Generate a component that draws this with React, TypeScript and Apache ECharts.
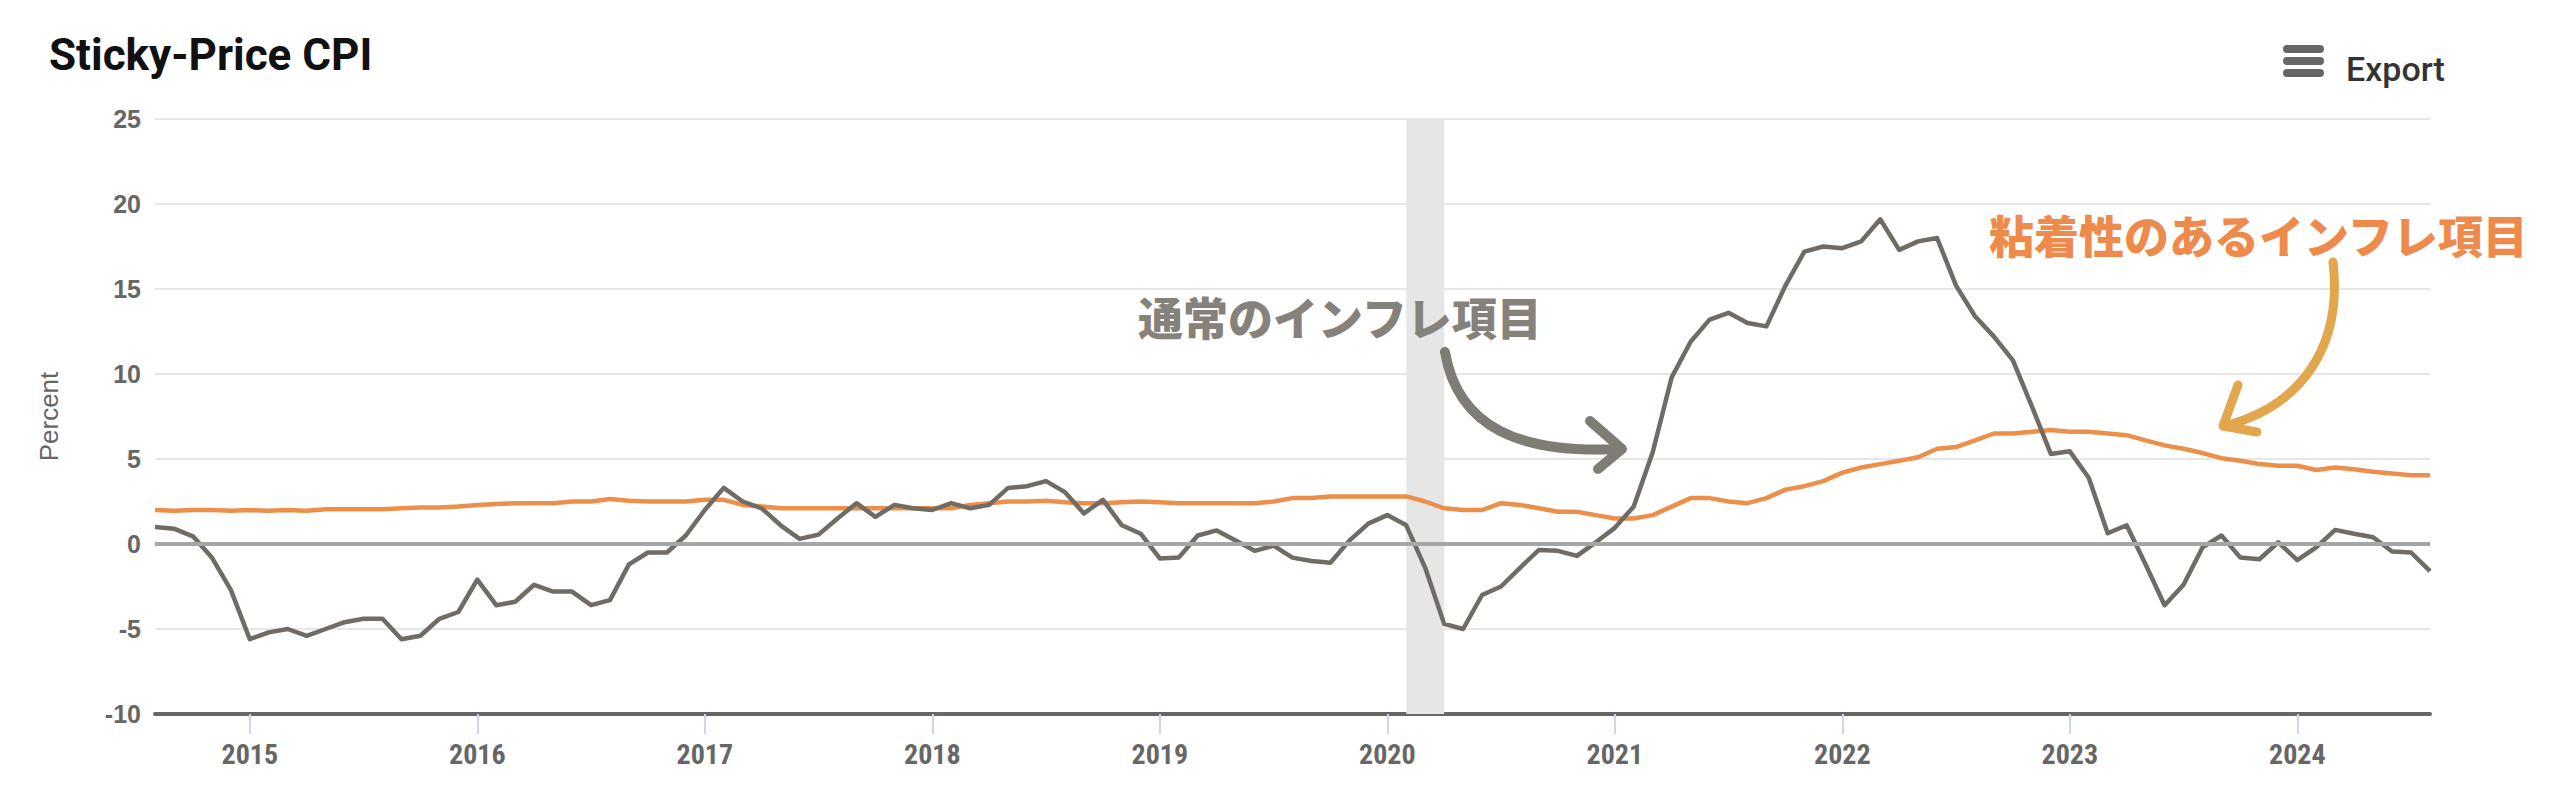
import React, { useEffect, useRef } from "react";
import * as echarts from "echarts";

// Monthly categories: Aug 2014 .. Aug 2024
const START_YEAR = 2014;
const START_MONTH = 8;
const N_MONTHS = 121;
const months: string[] = [];
for (let i = 0; i < N_MONTHS; i++) {
  const t = START_YEAR * 12 + (START_MONTH - 1) + i;
  const y = Math.floor(t / 12);
  const m = (t % 12) + 1;
  months.push(`${y}-${String(m).padStart(2, "0")}`);
}

// Grey line (通常のインフレ項目), percent
const flexibleCPI = [
  1.0, 0.9, 0.45, -0.8, -2.7,
  -5.6, -5.2, -5.0, -5.4, -5.0, -4.6, -4.4, -4.4, -5.6, -5.4, -4.4, -4.0,
  -2.1, -3.6, -3.4, -2.4, -2.8, -2.8, -3.6, -3.3, -1.2, -0.5, -0.5, 0.5,
  2.0, 3.3, 2.5, 2.1, 1.1, 0.3, 0.55, 1.5, 2.4, 1.6, 2.3, 2.1,
  2.0, 2.4, 2.1, 2.3, 3.3, 3.4, 3.7, 3.05, 1.8, 2.6, 1.1, 0.6,
  -0.85, -0.8, 0.5, 0.8, 0.2, -0.4, -0.1, -0.8, -1.0, -1.1, 0.2, 1.2,
  1.7, 1.1, -1.4, -4.7, -5.0, -3.0, -2.5, -1.4, -0.35, -0.4, -0.7, 0.1,
  0.95, 2.2, 5.4, 9.8, 11.9, 13.2, 13.6, 13.0, 12.8, 15.2, 17.2, 17.5,
  17.4, 17.8, 19.1, 17.3, 17.8, 18.0, 15.2, 13.4, 12.2, 10.8, 8.1, 5.3,
  5.45, 3.9, 0.63, 1.1, -1.2, -3.6, -2.4, -0.2, 0.5, -0.8, -0.9, 0.1,
  -0.95, -0.2, 0.83, 0.6, 0.4, -0.44, -0.5, -1.6,
];

// Orange line (粘着性のあるインフレ項目), percent
const stickyCPI = [
  2.0, 1.95, 2.0, 2.0, 1.95,
  2.0, 1.95, 2.0, 1.95, 2.05, 2.05, 2.05, 2.05, 2.1, 2.15, 2.15, 2.2,
  2.3, 2.35, 2.4, 2.4, 2.4, 2.5, 2.5, 2.65, 2.55, 2.5, 2.5, 2.5,
  2.6, 2.6, 2.3, 2.2, 2.1, 2.1, 2.1, 2.1, 2.1, 2.1, 2.1, 2.1,
  2.1, 2.1, 2.3, 2.4, 2.5, 2.5, 2.55, 2.45, 2.4, 2.4, 2.45, 2.5,
  2.45, 2.4, 2.4, 2.4, 2.4, 2.4, 2.5, 2.7, 2.7, 2.8, 2.8, 2.8,
  2.8, 2.8, 2.5, 2.1, 2.0, 2.0, 2.4, 2.3, 2.1, 1.9, 1.9, 1.7,
  1.5, 1.5, 1.7, 2.2, 2.7, 2.7, 2.5, 2.4, 2.7, 3.2, 3.4, 3.7,
  4.2, 4.5, 4.7, 4.9, 5.1, 5.6, 5.7, 6.1, 6.5, 6.5, 6.6, 6.7,
  6.6, 6.6, 6.5, 6.4, 6.1, 5.8, 5.6, 5.35, 5.05, 4.9, 4.7, 4.6,
  4.6, 4.35, 4.5, 4.4, 4.25, 4.15, 4.05, 4.05,
];

const Y_MIN = -10;
const Y_MAX = 25;
const Y_INTERVAL = 5;
const RECESSION = ["2020-02", "2020-04"];

const TITLE = "Sticky-Price CPI";
const LABEL_GREY = "通常のインフレ項目";
const LABEL_ORANGE = "粘着性のあるインフレ項目";

const GREY = "#706b64";
const ORANGE = "#ec8f4a";
const NARROW = '"Liberation Sans Narrow", "Roboto Condensed", Roboto, sans-serif';
const SANS = 'Roboto, "Noto Sans", sans-serif';
const ARIAL = '"Liberation Sans", Arial, sans-serif';
const CJK = '"Noto Sans CJK JP", sans-serif';

export default function App() {
  const ref = useRef<HTMLDivElement>(null);

  useEffect(() => {
    document.body.style.margin = "0";
    if (!ref.current) return;
    const chart = echarts.init(ref.current, undefined, { renderer: "svg" });

    const isJan = (_i: number, v: string) => v.endsWith("-01");

    chart.setOption({
      animation: false,
      backgroundColor: "#ffffff",
      title: {
        text: TITLE,
        left: 44,
        top: 28,
        textStyle: {
          fontSize: 44,
          fontWeight: "bold",
          color: "#111",
          fontFamily: SANS,
        },
      },
      grid: {
        left: 155,
        right: 130,
        top: 119,
        bottom: 84,
        containLabel: false,
        outerBoundsMode: "none",
      },
      xAxis: {
        type: "category",
        data: months,
        boundaryGap: false,
        axisLine: { onZero: false, lineStyle: { color: "#666666", width: 4 } },
        axisTick: {
          show: true,
          interval: isJan,
          length: 20,
          lineStyle: { color: "#ccd6eb", width: 2 },
        },
        axisLabel: {
          interval: isJan,
          formatter: (v: string) => v.slice(0, 4),
          color: "#666666",
          fontSize: 28,
          fontWeight: "bold",
          fontFamily: NARROW,
          margin: 26,
        },
        splitLine: { show: false },
      },
      yAxis: {
        type: "value",
        min: Y_MIN,
        max: Y_MAX,
        interval: Y_INTERVAL,
        name: "Percent",
        nameLocation: "middle",
        nameGap: 93,
        nameRotate: 90,
        nameTextStyle: {
          color: "#666666",
          fontSize: 26,
          fontFamily: ARIAL,
        },
        axisLine: { show: false },
        axisTick: { show: false },
        axisLabel: {
          color: "#666666",
          fontSize: 25,
          fontWeight: "bold",
          fontFamily: ARIAL,
          margin: 14,
        },
        splitLine: { lineStyle: { color: "#e6e6e6", width: 2 } },
      },
      series: [
        {
          name: "base",
          type: "line",
          data: [],
          silent: true,
          markArea: {
            silent: true,
            itemStyle: { color: "#e6e6e6", opacity: 1 },
            data: [[{ xAxis: RECESSION[0] }, { xAxis: RECESSION[1] }]],
          },
          markLine: {
            silent: true,
            symbol: "none",
            label: { show: false },
            lineStyle: { color: "#a6a6a6", width: 4, type: "solid" },
            data: [{ yAxis: 0 }],
          },
        },
        {
          name: "Sticky",
          type: "line",
          data: stickyCPI,
          symbol: "none",
          lineStyle: { color: ORANGE, width: 4.5, join: "round" },
          itemStyle: { color: ORANGE },
        },
        {
          name: "Flexible",
          type: "line",
          data: flexibleCPI,
          symbol: "none",
          lineStyle: { color: GREY, width: 4.5, join: "round" },
          itemStyle: { color: GREY },
        },
      ],
      graphic: [
        // Export button
        { type: "rect", shape: { x: 2283, y: 45, width: 41, height: 8, r: 4 }, style: { fill: "#666666" } },
        { type: "rect", shape: { x: 2283, y: 57, width: 41, height: 8, r: 4 }, style: { fill: "#666666" } },
        { type: "rect", shape: { x: 2283, y: 69, width: 41, height: 8, r: 4 }, style: { fill: "#666666" } },
        {
          type: "text",
          style: {
            text: "Export",
            x: 2346,
            y: 69,
            textVerticalAlign: "middle",
            font: `500 34px ${SANS}`,
            fill: "#333333",
          },
        },
        // Grey annotation
        {
          type: "text",
          z: 100,
          style: {
            text: LABEL_GREY,
            x: 1138,
            y: 316,
            textVerticalAlign: "middle",
            font: `900 45px ${CJK}`,
            fill: "#85817b",
          },
        },
        {
          type: "bezierCurve",
          z: 100,
          shape: { x1: 1445, y1: 352, cpx1: 1458, cpy1: 428, cpx2: 1520, cpy2: 454, x2: 1620, y2: 449 },
          style: { stroke: "#7f7b75", lineWidth: 10, fill: null, lineCap: "round" },
        },
        {
          type: "polyline",
          z: 100,
          shape: { points: [[1590, 421], [1622, 449], [1598, 469]] },
          style: { stroke: "#7f7b75", lineWidth: 10, fill: null, lineCap: "round", lineJoin: "round" },
        },
        // Orange annotation
        {
          type: "text",
          z: 100,
          style: {
            text: LABEL_ORANGE,
            x: 1989,
            y: 234,
            textVerticalAlign: "middle",
            font: `900 45px ${CJK}`,
            fill: "#ee8b4c",
          },
        },
        {
          type: "bezierCurve",
          z: 100,
          shape: { x1: 2333, y1: 262, cpx1: 2343, cpy1: 348, cpx2: 2300, cpy2: 407, x2: 2224, y2: 426 },
          style: { stroke: "#e2a64c", lineWidth: 9, fill: null, lineCap: "round" },
        },
        {
          type: "polyline",
          z: 100,
          shape: { points: [[2238, 385], [2223, 426], [2257, 432]] },
          style: { stroke: "#e2a64c", lineWidth: 9, fill: null, lineCap: "round", lineJoin: "round" },
        },
      ],
    });

    return () => chart.dispose();
  }, []);

  return <div ref={ref} style={{ width: 2560, height: 798 }} />;
}
